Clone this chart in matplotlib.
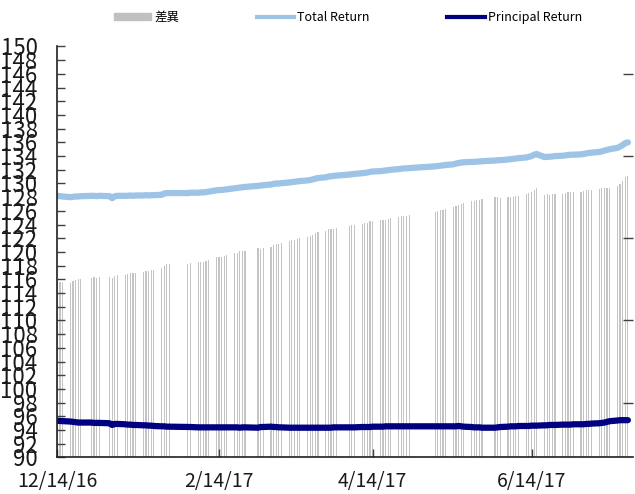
import matplotlib
matplotlib.use("Agg")
import matplotlib.pyplot as plt
import matplotlib.dates as mdates
from matplotlib.patches import Patch
from matplotlib.lines import Line2D
import pandas as pd

plt.rcParams['font.family'] = ['Noto Sans CJK TC', 'DejaVu Sans']

# trading days (weekdays minus non-trading days)
holidays = ['2016-12-26', '2017-01-02', '2017-01-27', '2017-01-30', '2017-01-31',
            '2017-02-01', '2017-02-27', '2017-02-28', '2017-04-03', '2017-04-04',
            '2017-05-01', '2017-05-02', '2017-05-03', '2017-05-04', '2017-05-05',
            '2017-05-29', '2017-05-30']
days = pd.bdate_range('2016-12-14', '2017-07-21')
days = days[~days.isin(pd.to_datetime(holidays))]

# one row per week
total = [
    128.2, 128.15, 128.1,
    128.0, 128.05, 128.1, 128.1, 128.15,
    128.2, 128.2, 128.15, 128.2,
    128.15, 127.85, 128.15, 128.2,
    128.2, 128.2, 128.25, 128.2, 128.25,
    128.25, 128.3, 128.25, 128.3, 128.3,
    128.35, 128.55, 128.6, 128.6,
    128.6, 128.65,
    128.65, 128.7, 128.7, 128.75, 128.8,
    129.0, 129.05, 129.05, 129.1, 129.15,
    129.3, 129.35, 129.4, 129.45, 129.5,
    129.65, 129.7, 129.75,
    129.85, 129.95, 130.0, 130.0, 130.05,
    130.15, 130.2, 130.25, 130.3, 130.35,
    130.45, 130.5, 130.6, 130.7, 130.8,
    130.9, 131.0, 131.05, 131.1, 131.15,
    131.3, 131.35, 131.4,
    131.5, 131.55, 131.6, 131.7, 131.75,
    131.8, 131.85, 131.9, 131.95, 132.0,
    132.1, 132.15, 132.2, 132.2, 132.25,
    132.5, 132.55, 132.6, 132.65, 132.7,
    132.8, 132.9, 133.0, 133.05, 133.1,
    133.15, 133.15, 133.2, 133.2, 133.25,
    133.35, 133.4, 133.4,
    133.5, 133.55, 133.6, 133.65, 133.7,
    133.8, 133.9, 134.0, 134.2, 134.3,
    133.85, 133.9, 133.9, 133.95, 134.0,
    134.05, 134.1, 134.15, 134.2, 134.2,
    134.25, 134.3, 134.4, 134.45, 134.5,
    134.6, 134.7, 134.8, 134.9, 135.0,
    135.2, 135.4, 135.6, 135.9, 136.0,
]

principal = [
    95.35, 95.33, 95.3,
    95.25, 95.2, 95.15, 95.1, 95.1,
    95.1, 95.05, 95.05, 95.05,
    95.0, 94.75, 94.9, 94.9,
    94.85, 94.8, 94.8, 94.75, 94.75,
    94.7, 94.7, 94.65, 94.65, 94.6,
    94.55, 94.55, 94.5, 94.5,
    94.45, 94.45,
    94.4, 94.4, 94.4, 94.4, 94.4,
    94.4, 94.4, 94.4, 94.4, 94.4,
    94.4, 94.4, 94.35, 94.4, 94.4,
    94.35, 94.45, 94.45,
    94.5, 94.45, 94.45, 94.4, 94.4,
    94.35, 94.35, 94.35, 94.35, 94.35,
    94.35, 94.35, 94.35, 94.35, 94.35,
    94.35, 94.35, 94.35, 94.4, 94.4,
    94.4, 94.4, 94.4,
    94.45, 94.45, 94.45, 94.45, 94.5,
    94.5, 94.5, 94.55, 94.55, 94.55,
    94.55, 94.55, 94.55, 94.55, 94.55,
    94.55, 94.55, 94.55, 94.55, 94.55,
    94.55, 94.55, 94.6, 94.55, 94.5,
    94.45, 94.4, 94.4, 94.4, 94.35,
    94.35, 94.4, 94.45,
    94.5, 94.55, 94.55, 94.55, 94.6,
    94.6, 94.6, 94.65, 94.65, 94.65,
    94.7, 94.7, 94.75, 94.75, 94.75,
    94.8, 94.8, 94.8, 94.8, 94.85,
    94.85, 94.85, 94.9, 94.9, 94.95,
    95.0, 95.05, 95.1, 95.2, 95.3,
    95.4, 95.45, 95.45, 95.45, 95.45,
]

df = pd.DataFrame({'total': total, 'principal': principal}, index=days)
df['diff'] = df['total'] - df['principal']

fig = plt.figure(figsize=(6.35, 4.94), dpi=100)
ax = fig.add_axes([0.0898, 0.0739, 0.9072, 0.832])
ax2 = ax.twinx()

ax2.bar(df.index, df['diff'], width=0.45, color='#c4c4c4', linewidth=0)
ax2.set_ylim(20, 50)
ax2.set_yticks(range(24, 49, 6))
ax2.tick_params(axis='y', direction='in', length=7, width=1, color='#404040',
                labelright=False)
for s in ax2.spines.values():
    s.set_visible(False)

ax.set_zorder(ax2.get_zorder() + 1)
ax.patch.set_visible(False)
ax.plot(df.index, df['total'], color='#9dc3e6', lw=4.5, solid_capstyle='round')
ax.plot(df.index, df['principal'], color='#000080', lw=4.5, solid_capstyle='round')

ax.set_ylim(90, 150)
ax.set_yticks(range(90, 151, 2))
ax.set_xlim(pd.Timestamp('2016-12-13 20:00'), pd.Timestamp('2017-07-23'))
xt = pd.to_datetime(['2016-12-14', '2017-02-14', '2017-04-14', '2017-06-14'])
ax.set_xticks(xt)
ax.xaxis.set_major_formatter(mdates.DateFormatter('%-m/%d/%y'))
ax.tick_params(axis='y', direction='in', length=6, width=1, color='#404040',
               labelsize=16, pad=14, labelcolor='#1a1a1a')
ax.tick_params(axis='x', direction='in', length=6, width=1, color='#404040',
               labelsize=14, pad=10, labelcolor='#1a1a1a')
for side in ['top', 'right']:
    ax.spines[side].set_visible(False)
for side in ['left', 'bottom']:
    ax.spines[side].set_color('#202020')
    ax.spines[side].set_linewidth(1.2)

handles = [Patch(color='#c0c0c0'),
           Line2D([], [], color='#9dc3e6', lw=3),
           Line2D([], [], color='#000080', lw=3)]
fig.legend(handles, ['差異', 'Total Return', 'Principal Return'],
           loc='center', bbox_to_anchor=(0.548, 0.965), ncol=3, frameon=False,
           fontsize=9, handlelength=3.0, handleheight=0.55, handletextpad=0.25,
           columnspacing=6.2)

fig.savefig('out.png', dpi=100)
